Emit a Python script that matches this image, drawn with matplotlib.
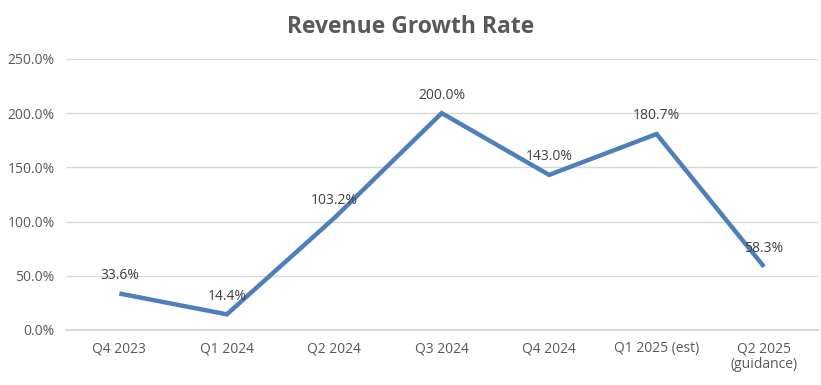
import matplotlib.pyplot as plt
from matplotlib.ticker import FuncFormatter

# Data
quarters = ["Q4 2023", "Q1 2024", "Q2 2024", "Q3 2024", "Q4 2024",
            "Q1 2025 (est)", "Q2 2025\n(guidance)"]
growth = [33.6, 14.4, 103.2, 200.0, 143.0, 180.7, 58.3]

plt.rcParams['font.family'] = ['Open Sans', 'DejaVu Sans']

fig = plt.figure(figsize=(8.21, 3.85), dpi=100)
ax = fig.add_axes([0.080, 0.143, 0.916, 0.704])

x = list(range(len(quarters)))
ax.plot(x, growth, color="#4E7FBB", linewidth=3.2, solid_capstyle="butt",
        solid_joinstyle="miter", zorder=3)

for xi, v in zip(x, growth):
    ax.annotate(f"{v:.1f}%", (xi, v), xytext=(0, 13), textcoords="offset points",
                ha="center", va="center", fontsize=10, color="#404040", zorder=4)

ax.set_xlim(-0.5, len(quarters) - 0.5)
ax.set_ylim(0, 250)
ax.set_yticks([0, 50, 100, 150, 200, 250])
ax.yaxis.set_major_formatter(FuncFormatter(lambda v, p: f"{v:.1f}%"))
ax.set_xticks(x)
ax.set_xticklabels(quarters, linespacing=1.1)

ax.grid(axis="y", color="#D9D9D9", linewidth=1)
ax.set_axisbelow(True)
for s in ["top", "right", "left"]:
    ax.spines[s].set_visible(False)
ax.spines["bottom"].set_color("#D9D9D9")
ax.spines["bottom"].set_linewidth(1.5)
ax.tick_params(axis="both", length=0, labelsize=10, labelcolor="#595959")
ax.tick_params(axis="x", pad=8)
ax.tick_params(axis="y", pad=8)

fig.text(0.5, 0.93, "Revenue Growth Rate", ha="center", va="center",
         fontsize=16.5, fontweight="bold", color="#595959")

fig.savefig("out.png", dpi=100)
